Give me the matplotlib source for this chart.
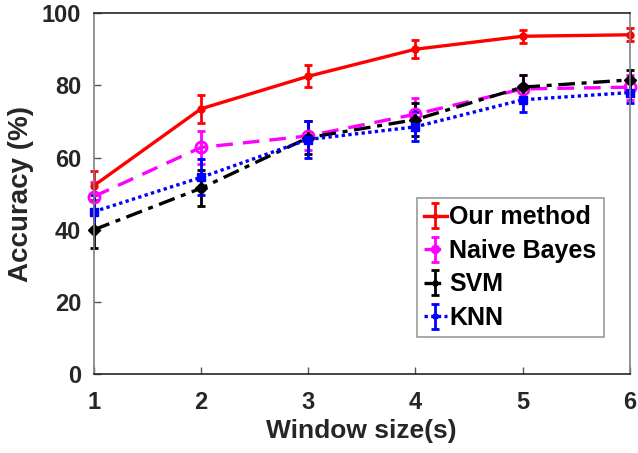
import matplotlib
matplotlib.use("Agg")
import matplotlib.pyplot as plt

window = [1, 2, 3, 4, 5, 6]
ours = [52.2, 73.5, 82.5, 90.0, 93.6, 94.0]
ours_err = [4.0, 3.8, 3.0, 2.5, 1.8, 1.8]
nb = [49.2, 62.8, 66.0, 72.0, 79.0, 79.5]
nb_err = [4.0, 4.5, 4.0, 4.5, 4.0, 3.5]
svm = [40.0, 51.5, 65.5, 70.5, 79.5, 81.5]
svm_err = [5.0, 5.0, 4.5, 4.5, 3.5, 2.8]
knn = [45.0, 54.5, 65.0, 68.5, 76.0, 78.0]
knn_err = [4.5, 5.0, 5.0, 4.0, 3.5, 3.0]

plt.rcParams['font.family'] = ['Liberation Sans', 'DejaVu Sans']
plt.rcParams['font.weight'] = 'bold'

fig = plt.figure(figsize=(6.38, 4.53), dpi=100)
ax = fig.add_axes([0.147, 0.174, 0.840, 0.797])

lw = 2.4
common = dict(linewidth=lw, elinewidth=2, capsize=3, capthick=2)
conts = []
conts.append(ax.errorbar(window, ours, yerr=ours_err, color='red', linestyle='-', marker='o',
            markersize=5, label='Our method', **common))
conts.append(ax.errorbar(window, nb, yerr=nb_err, color='magenta', linestyle=(0, (5, 3)), marker='o',
            markersize=8, markerfacecolor='none', markeredgewidth=2, label='Naive Bayes', **common))
conts.append(ax.errorbar(window, svm, yerr=svm_err, color='black', linestyle=(0, (5, 2, 1.5, 2)),
            marker='D', markersize=6, label='SVM', **common))
conts.append(ax.errorbar(window, knn, yerr=knn_err, color='blue', linestyle=(0, (1, 1)), marker='s',
            markersize=6, label='KNN', **common))
for c in conts:
    for child in c.get_children():
        child.set_clip_on(False)

ax.set_xlim(1, 6)
ax.set_ylim(0, 100)
ax.set_xticks(window)
ax.set_yticks([0, 20, 40, 60, 80, 100])
ax.tick_params(direction='in', labelsize=17, length=5, color='#555555', width=1,
               top=False, right=False)
ax.tick_params(axis='x', pad=12)
ax.tick_params(axis='y', pad=9)
for lab in ax.get_xticklabels() + ax.get_yticklabels():
    lab.set_fontweight('bold')
    lab.set_color('#262626')
ax.spines['top'].set_color('#262626')
ax.spines['bottom'].set_color('#262626')
ax.spines['left'].set_color('#808080')
ax.spines['right'].set_color('#808080')
for s in ax.spines.values():
    s.set_linewidth(1.2)
ax.set_xlabel('Window size(s)', fontsize=19, fontweight='bold', labelpad=4, color='#262626')
ax.set_ylabel('Accuracy (%)', fontsize=20, fontweight='bold', labelpad=6, color='#262626')

leg = ax.legend(loc='lower right', bbox_to_anchor=(0.952, 0.102),
                prop={'weight': 'bold', 'size': 18}, frameon=True, fancybox=False,
                handlelength=0.9, handletextpad=0.1, borderpad=0.3, labelspacing=0.38,
                borderaxespad=0, markerscale=0.6)
leg.get_frame().set_edgecolor('#808080')
leg.get_frame().set_linewidth(1.2)

fig.savefig('out.png', dpi=100)
